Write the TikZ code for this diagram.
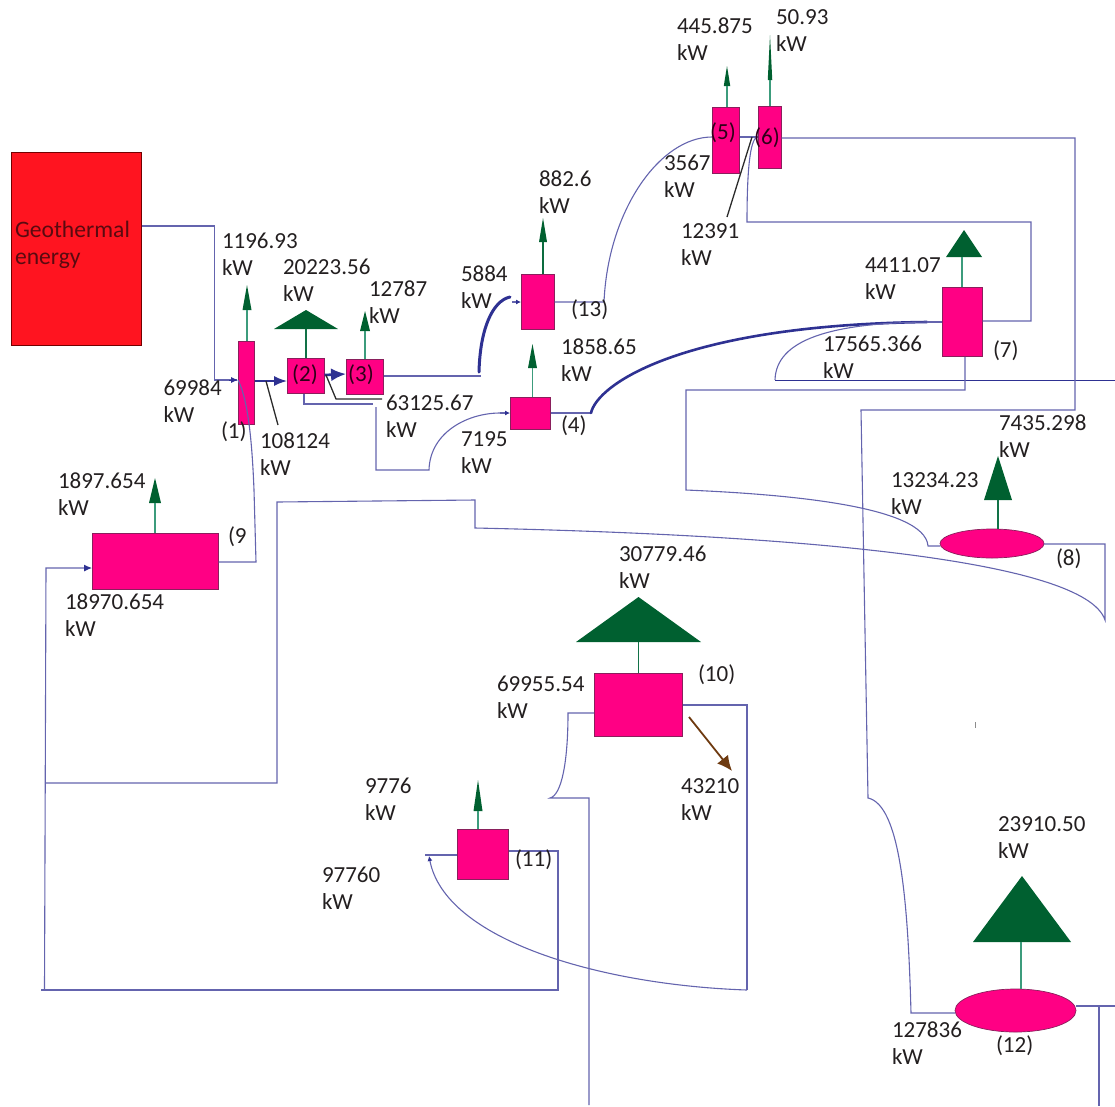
\documentclass[tikz,border=0pt]{standalone}
\usepackage{fontspec}
\setmainfont{Carlito}
\usetikzlibrary{shapes.geometric,arrows.meta}
\definecolor{pipe}{HTML}{6464AE}
\definecolor{pipedark}{HTML}{2E3192}
\definecolor{pinkfill}{HTML}{FF0084}
\definecolor{pinkedge}{HTML}{8A1F5C}
\definecolor{redfill}{HTML}{FF1420}
\definecolor{redtext}{HTML}{5A0A10}
\definecolor{trigreen}{HTML}{006030}
\definecolor{stemgreen}{HTML}{3C9C7C}
\definecolor{labeltext}{HTML}{231F20}
\definecolor{leader}{HTML}{2A2A2A}
\definecolor{brownarrow}{HTML}{6E3A10}
\tikzset{
  unit/.style={draw=pinkedge,fill=pinkfill,line width=0.7pt,inner sep=0pt,outer sep=0pt,rectangle},
  oval/.style={unit,ellipse},
  source/.style={draw=red!45!black,fill=redfill,line width=0.7pt,inner sep=0pt,outer sep=0pt,rectangle},
  tri/.style={isosceles triangle,isosceles triangle stretches,shape border rotate=90,fill=trigreen,inner sep=0pt,outer sep=0pt,anchor=lower side},
  stem/.style={draw=stemgreen,line width=1.2pt},
  pipeline/.style={draw=pipe,line width=1.1pt,line join=miter},
  darkline/.style={draw=pipedark,line width=1pt},
  thickpipe/.style={draw=pipedark,line width=2.6pt,line cap=round},
  smalltip/.style={-{Latex[length=5pt,width=5pt,color=pipedark]}},
  blacklead/.style={draw=leader,line width=1.3pt},
  lab/.style={anchor=north west,inner sep=0pt,outer sep=0pt,align=left,text=labeltext,xshift=-1pt,font=\fontsize{23}{27}\selectfont},
  plab/.style={lab,anchor=west},
  clab/.style={lab,anchor=center,xshift=0pt,text=black!70!pinkfill!60!black}
}
\begin{document}
\begin{tikzpicture}[x=1pt,y=-1pt]
\useasboundingbox (0,0) rectangle (1115,1106);
% equipment
\node[source,minimum width=130.5pt,minimum height=193.5pt] (geo) at (76.3,249) {};
\node[unit,minimum width=16.5pt,minimum height=83.5pt] (b1) at (246.3,383) {};
\node[unit,minimum width=37.5pt,minimum height=35.5pt] (b2) at (305.8,376) {};
\node[unit,minimum width=37.5pt,minimum height=35.5pt] (b3) at (364.8,377) {};
\node[unit,minimum width=40.5pt,minimum height=32.5pt] (b4) at (530.3,413.5) {};
\node[unit,minimum width=27.5pt,minimum height=66.5pt] (b5) at (725.8,140.5) {};
\node[unit,minimum width=23.5pt,minimum height=62.5pt] (b6) at (769.8,137.5) {};
\node[unit,minimum width=40.5pt,minimum height=69.5pt] (b7) at (962.3,322) {};
\node[oval,minimum width=104pt,minimum height=29pt] (b8) at (992,543.5) {};
\node[unit,minimum width=126.5pt,minimum height=56.5pt] (b9) at (155.3,561.5) {};
\node[unit,minimum width=88.5pt,minimum height=63.5pt] (b10) at (638.3,705) {};
\node[unit,minimum width=51.5pt,minimum height=50.5pt] (b11) at (482.8,854.5) {};
\node[oval,minimum width=121pt,minimum height=43pt] (b12) at (1015.5,1010.5) {};
\node[unit,minimum width=33.5pt,minimum height=55.5pt] (b13) at (537.8,302) {};
% outlet triangles
\node[tri,minimum width=9pt,minimum height=25pt] (t1) at (247,310) {};
\node[tri,minimum width=64pt,minimum height=19pt] (t2) at (306,329) {};
\node[tri,minimum width=10pt,minimum height=20pt] (t3) at (365,331) {};
\node[tri,minimum width=9pt,minimum height=24pt] (t4) at (532.5,368) {};
\node[tri,minimum width=6.5pt,minimum height=20pt] (t5) at (727,86) {};
\node[tri,minimum width=4.5pt,minimum height=45pt] (t6) at (770,80) {};
\node[tri,minimum width=36pt,minimum height=27pt] (t7) at (964,257) {};
\node[tri,minimum width=28pt,minimum height=44pt] (t8) at (998,500) {};
\node[tri,minimum width=12pt,minimum height=25pt] (t9) at (155,503) {};
\node[tri,minimum width=125pt,minimum height=45pt] (t10) at (638.5,642) {};
\node[tri,minimum width=9pt,minimum height=31pt] (t11) at (478,811) {};
\node[tri,minimum width=98pt,minimum height=66pt] (t12) at (1022,942) {};
\node[tri,minimum width=8pt,minimum height=24pt] (t13) at (543,242) {};
% stems
\draw[stem] (t1.lower side) -- (t1.lower side |- b1.north);
\draw[stem,draw=trigreen!70!stemgreen] (t2.lower side) -- (t2.lower side |- b2.north);
\draw[stem] (t3.lower side) -- (t3.lower side |- b3.north);
\draw[stem] (t4.lower side) -- (t4.lower side |- b4.north);
\draw[stem] (t5.lower side) -- (t5.lower side |- b5.north);
\draw[stem] (t6.lower side) -- (t6.lower side |- b6.north);
\draw[stem] ([xshift=-2pt]t7.lower side) -- ([xshift=-2pt]t7.lower side |- b7.north);
\draw[stem,draw=trigreen!70!stemgreen] (t8.lower side) -- (t8.lower side |- b8.north);
\draw[stem] (t9.lower side) -- (t9.lower side |- b9.north);
\draw[stem,draw=trigreen!70!stemgreen] (t10.lower side) -- (t10.lower side |- b10.north);
\draw[stem] (t11.lower side) -- (t11.lower side |- b11.north);
\draw[stem] ([xshift=-1pt]t12.lower side) -- ([xshift=-1pt]t12.lower side |- 0,989);
\draw[stem,draw=trigreen!80!stemgreen] (t13.lower side) -- (t13.lower side |- b13.north);
% pipes
\draw[pipeline] (geo.east |- 0,226) -- (214.5,226) -- (214.5,380) -- (237,380);
\draw[-{Latex[length=7pt,width=6pt,color=pipedark]},darkline] (229,380) -- (b1.west |- 0,380);
\draw[pipeline] (b1.west |- 0,380) .. controls (248,400) and (252,440) .. (254,490) -- (256,562) -- (b9.east |- 0,562);
\draw[darkline,line width=1.7pt,-{Latex[length=13pt,width=10pt,color=pipedark]}] (b1.east |- 0,381) -- (b2.west |- 0,381);
\draw[darkline,line width=2.6pt,-{Latex[length=15pt,width=13pt,color=pipedark]}] (b2.east |- 0,375) -- (b3.west |- 0,374);
\draw[pipeline] (b3.east |- 0,376) -- (481,376);
\draw[thickpipe,line width=3pt] (479,372) .. controls (480,330) and (492,301) .. (510,297);
\draw[pipeline,smalltip] (512,302) -- (b13.west |- 0,302);
\draw[pipeline] (b2.south -| 304,0) -- (304,404) -- (373,404);
\draw[pipeline] (376,407) -- (376,470) -- (429,470) .. controls (430,432) and (468,413) .. (500,413);
\draw[pipeline,smalltip] (500,413) -- (b4.west |- 0,413);
\draw[pipeline] (b4.east |- 0,413) -- (591,413);
\draw[thickpipe] (591,413) .. controls (597,385) and (680,325) .. (927,322);
\draw[pipeline] (927,322) -- (b7.west |- 0,322);
\draw[pipeline] (927,322) .. controls (830,323) and (776,340) .. (775,380);
\draw[darkline] (775,380) -- (1115,380);
\draw[pipeline] (b7.south -| 965,0) -- (965,390) -- (686,390) -- (686,490) .. controls (780,494) and (925,505) .. (928,546) -- (b8.west |- 0,546);
\draw[pipeline] (b8.east |- 0,544) -- (1105,544) -- (1105,620) .. controls (1085,560) and (800,535) .. (475,528) -- (475,500) -- (277,502) -- (277,783) -- (45,783);
\draw[pipeline,-{Latex[length=8pt,width=7pt,color=pipedark]}] (44.5,990) -- (46,568) -- (b9.west |- 0,568);
\draw[pipeline] (41,990) -- (558,990) -- (558,851) -- (b11.east |- 0,851);
\draw[pipeline] (425,855) -- (b11.west |- 0,855);
\draw[pipeline,-{Latex[length=5pt,width=5pt,color=pipedark]}] (747,990) .. controls (600,985) and (445,940) .. (429,856);
\draw[pipeline] (b10.east |- 0,705) -- (747,705) -- (747,990);
\draw[pipeline] (b10.west |- 0,713) -- (568,713) .. controls (568,760) and (562,795) .. (550,798) -- (589,798) -- (589,1105);
\draw[pipeline] (b6.east |- 0,138) -- (1075,138) -- (1075,410) -- (861,410) -- (868,798) .. controls (900,805) and (908,900) .. (911,1013) -- (b12.west |- 0,1013);
\draw[pipeline] (b12.east |- 0,1006) -- (1115,1006);
\draw[pipeline] (1099,1006) -- (1099,1106);
\draw[pipeline] (b13.east |- 0,302) -- (604,302) .. controls (608,210) and (660,137) .. (b5.west |- 0,137);
\draw[pipeline] (b5.east |- 0,137) -- (b6.west |- 0,137);
\draw[pipeline] (757,137) .. controls (750,140) and (747,170) .. (747,222) -- (1031,222) -- (1031,321) -- (b7.east |- 0,321);
% leaders
\draw[blacklead] (266,381) -- (278,425);
\draw[blacklead] (326,375) -- (336,399) -- (382,399);
\draw[blacklead] (752,137) -- (727,217);
\draw[draw=brownarrow,line width=1.8pt,-{Latex[length=15pt,width=14pt,color=brownarrow]}] (689,717) -- (732,771);
\draw[draw=black!45,line width=1pt] (975,722) -- (975,728);
% labels
\node[lab,text=redtext,xshift=1pt,font=\fontsize{23.6}{27}\selectfont] (lgeo) at (15,221) {Geothermal\\energy};
\node[lab] (l1) at (223,233) {1196.93\\kW};
\node[lab] (l2) at (284,259) {20223.56\\kW};
\node[lab] (l3) at (370,281) {12787\\kW};
\node[lab] (l4) at (164.5,380) {69984\\kW};
\node[plab] (p1) at (222,432) {(1)};
\node[lab] (l5) at (261,433) {108124\\kW};
\node[lab] (l6) at (387,395) {63125.67\\kW};
\node[clab] (p2) at (306,375) {(2)};
\node[clab] (p3) at (362,375) {(3)};
\node[lab] (l7) at (462,266) {5884\\kW};
\node[lab] (l8) at (540,171) {882.6\\kW};
\node[plab] (p13) at (572,310) {(13)};
\node[lab] (l9) at (562,339) {1858.65\\kW};
\node[plab] (p4) at (562,426) {(4)};
\node[lab] (l10) at (462,432) {7195\\kW};
\node[lab] (l11) at (678,18) {445.875\\kW};
\node[lab] (l12) at (777,10) {50.93\\kW};
\node[lab] (l13) at (665,155) {3567\\kW};
\node[lab] (l14) at (682,224) {12391\\kW};
\node[clab] (p5) at (724,133) {(5)};
\node[clab] (p6) at (768,138) {(6)};
\node[lab] (l15) at (866,258) {4411.07\\kW};
\node[lab] (l16) at (824,336) {17565.366\\kW};
\node[plab] (p7) at (994,351) {(7)};
\node[lab] (l17) at (1000,415) {7435.298\\kW};
\node[lab] (l18) at (892,473) {13234.23\\kW};
\node[plab] (p8) at (1057,559) {(8)};
\node[plab] (p9) at (229,537) {(9};
\node[lab] (l19) at (59,473) {1897.654\\kW};
\node[lab] (l20) at (66,594) {18970.654\\kW};
\node[lab] (l21) at (620,546) {30779.46\\kW};
\node[plab] (p10) at (699,675) {(10)};
\node[lab] (l22) at (498,676) {69955.54\\kW};
\node[lab] (l23) at (682,779) {43210\\kW};
\node[lab] (l24) at (366,778) {9776\\kW};
\node[lab] (l25) at (323,867) {97760\\kW};
\node[plab] (p11) at (516,860) {(11)};
\node[lab] (l26) at (999,817) {23910.50\\kW};
\node[lab] (l27) at (893,1022) {127836\\kW};
\node[plab] (p12) at (997,1046) {(12)};
\end{tikzpicture}
\end{document}
